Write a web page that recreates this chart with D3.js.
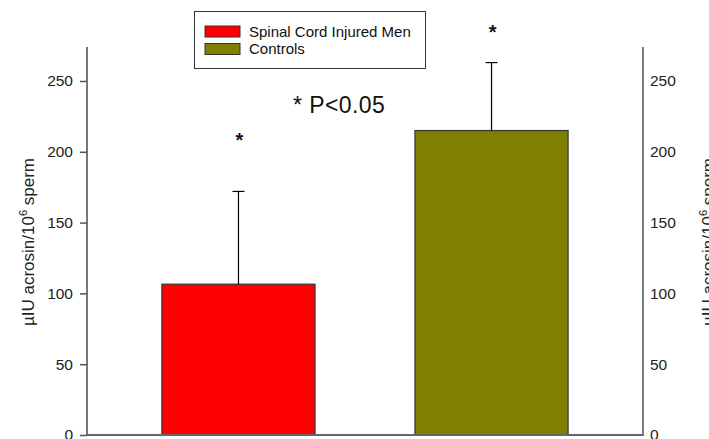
<!DOCTYPE html>
<html>
<head>
<meta charset="utf-8">
<script src="https://cdn.jsdelivr.net/npm/d3@7"></script>
<style>
  html, body { margin: 0; padding: 0; background: #fff; }
  svg { display: block; font-family: Arial, "Liberation Sans", sans-serif; }
</style>
</head>
<body>
<svg id="chart" width="709" height="439"></svg>
<script>
// Acrosin activity per 10^6 sperm, mean with upper SD whisker
const groups = ["Spinal Cord Injured Men", "Controls"];
const means = [106.5, 215];
const upperErr = [172, 263];
const barColors = ["#ff0000", "#808000"];
const yTicks = [0, 50, 100, 150, 200, 250];
const significance = ["*", "*"];
const note = "* P<0.05";

const svg = d3.select("#chart");
const plotL = 87, plotR = 643, plotT = 47, plotB = 435;

const x = d3.scaleBand().domain(groups).range([plotL, plotR])
  .paddingInner(0.395).paddingOuter(0.296);
const y = d3.scaleLinear().domain([0, 274]).range([plotB, plotT]);

// Bars
svg.selectAll("rect.bar").data(groups).join("rect")
  .attr("class", "bar")
  .attr("x", d => x(d))
  .attr("width", x.bandwidth())
  .attr("y", (d, i) => y(means[i]))
  .attr("height", (d, i) => y(0) - y(means[i]))
  .attr("fill", (d, i) => barColors[i])
  .attr("stroke", "#333")
  .attr("stroke-width", 1.2);

// Error whiskers (upper only) with caps
const cx = d => x(d) + x.bandwidth() / 2;
svg.selectAll("line.err").data(groups).join("line")
  .attr("class", "err")
  .attr("x1", cx).attr("x2", cx)
  .attr("y1", (d, i) => y(means[i]))
  .attr("y2", (d, i) => y(upperErr[i]))
  .attr("stroke", "#000").attr("stroke-width", 1.2);
svg.selectAll("line.cap").data(groups).join("line")
  .attr("class", "cap")
  .attr("x1", d => cx(d) - 6).attr("x2", d => cx(d) + 6)
  .attr("y1", (d, i) => y(upperErr[i]))
  .attr("y2", (d, i) => y(upperErr[i]))
  .attr("stroke", "#000").attr("stroke-width", 1.2);

// Significance markers above each group
const starLift = [44, 24];
svg.selectAll("text.star").data(groups).join("text")
  .attr("class", "star")
  .attr("x", d => cx(d) + 1)
  .attr("y", (d, i) => y(upperErr[i]) - starLift[i])
  .attr("text-anchor", "middle")
  .attr("font-size", 20)
  .attr("font-weight", "bold")
  .attr("fill", "#111")
  .text((d, i) => significance[i]);

// Left axis with outward ticks
const yAxisL = d3.axisLeft(y).tickValues(yTicks).tickSize(7).tickPadding(7);
const gL = svg.append("g").attr("transform", `translate(${plotL},0)`).call(yAxisL);
gL.select(".domain").remove();
gL.selectAll(".tick line").attr("stroke", "#555").attr("stroke-width", 1.5);
gL.selectAll(".tick text").attr("font-size", 15.5).attr("fill", "#222")
  .attr("font-family", "Arial, 'Liberation Sans', sans-serif");
svg.append("line").attr("x1", plotL).attr("x2", plotL)
  .attr("y1", plotT).attr("y2", plotB + 1)
  .attr("stroke", "#555").attr("stroke-width", 1.6);

// Right axis: labels only
const yAxisR = d3.axisRight(y).tickValues(yTicks).tickSize(0).tickPadding(7);
const gR = svg.append("g").attr("transform", `translate(${plotR},0)`).call(yAxisR);
gR.select(".domain").remove();
gR.selectAll(".tick text").attr("font-size", 15.5).attr("fill", "#222")
  .attr("font-family", "Arial, 'Liberation Sans', sans-serif");
svg.append("line").attr("x1", plotR).attr("x2", plotR)
  .attr("y1", plotT).attr("y2", plotB + 1)
  .attr("stroke", "#444").attr("stroke-width", 1.4);

// Baseline
svg.append("line").attr("x1", plotL).attr("x2", plotR)
  .attr("y1", plotB).attr("y2", plotB)
  .attr("stroke", "#666").attr("stroke-width", 2);

// Axis titles
function axisTitle(tx, ty) {
  const t = svg.append("text")
    .attr("transform", `translate(${tx},${ty}) rotate(-90)`)
    .attr("text-anchor", "middle")
    .attr("font-size", 17)
    .attr("fill", "#222");
  t.append("tspan").text("µIU acrosin/10");
  t.append("tspan").attr("font-size", 11).attr("dy", -7).text("6");
  t.append("tspan").attr("dy", 7).text(" sperm");
}
axisTitle(34, 242);
axisTitle(714, 242);

// Significance note
svg.append("text").attr("x", 293).attr("y", 113)
  .attr("font-size", 23).attr("letter-spacing", 0.4)
  .attr("fill", "#111").text(note);

// Legend
const lg = svg.append("g");
lg.append("rect").attr("x", 194.5).attr("y", 11.5).attr("width", 231).attr("height", 57)
  .attr("fill", "#fff").attr("stroke", "#333").attr("stroke-width", 1);
groups.forEach((g, i) => {
  const ry = 26 + i * 17.5;
  lg.append("rect").attr("x", 205).attr("y", ry).attr("width", 35).attr("height", 11)
    .attr("fill", barColors[i]).attr("stroke", "#333").attr("stroke-width", 1);
  lg.append("text").attr("x", 249).attr("y", ry + 10.5)
    .attr("font-size", 15).attr("fill", "#111").text(g);
});
</script>
</body>
</html>
